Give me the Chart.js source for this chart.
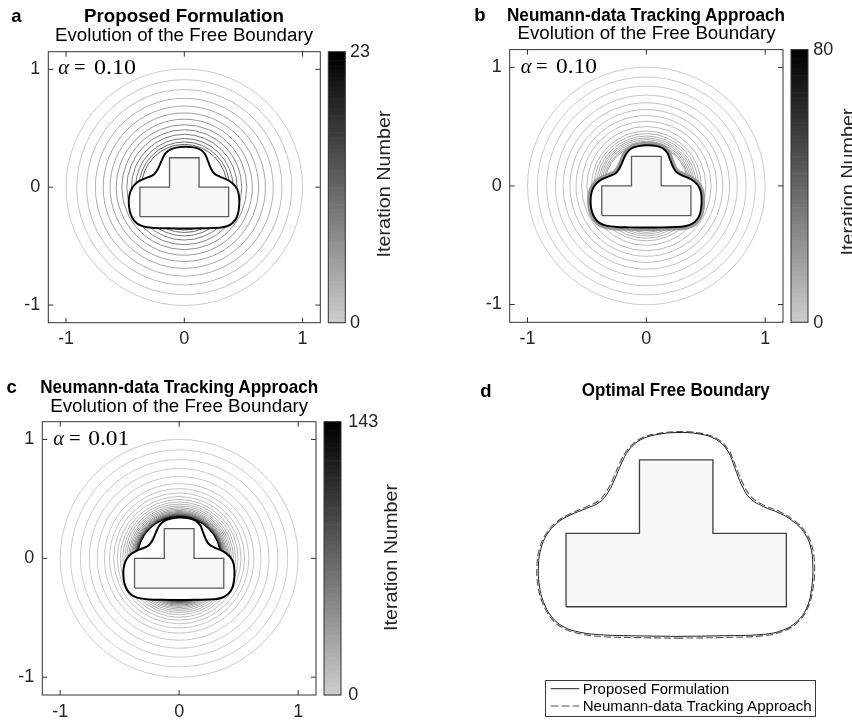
<!DOCTYPE html>
<html>
<head>
<meta charset="utf-8">
<script src="https://cdn.jsdelivr.net/npm/chart.js@4.4.1/dist/chart.umd.min.js"></script>
<style>
  html, body { margin: 0; padding: 0; background: #fff; }
  #wrap { position: relative; width: 852px; height: 723px; overflow: hidden; }
  #wrap canvas, #wrap svg { position: absolute; left: 0; top: 0; }
  .t { font-family: "Liberation Sans", Arial, Helvetica, sans-serif; }
  .b { font-weight: bold; }
  .m { font-family: "Liberation Serif", "Times New Roman", serif; }
</style>
</head>
<body>
<div id="wrap">
  <canvas id="chartA" width="852" height="723"></canvas>
  <canvas id="chartB" width="852" height="723"></canvas>
  <canvas id="chartC" width="852" height="723"></canvas>
  <canvas id="chartD" width="852" height="723"></canvas>
  <svg width="852" height="723">
    <g class="t" fill="#000" font-size="18.5">
      <!-- a -->
      <text class="b" x="16.5" y="21.7" text-anchor="middle">a</text>
      <text class="b" x="184" y="21.7" text-anchor="middle" textLength="200" lengthAdjust="spacingAndGlyphs">Proposed Formulation</text>
      <text x="184" y="40.7" text-anchor="middle" textLength="258" lengthAdjust="spacingAndGlyphs">Evolution of the Free Boundary</text>
      <!-- b -->
      <text class="b" x="480" y="21" text-anchor="middle">b</text>
      <text class="b" x="646" y="21" text-anchor="middle" textLength="278" lengthAdjust="spacingAndGlyphs">Neumann-data Tracking Approach</text>
      <text x="646.5" y="39.3" text-anchor="middle" textLength="258" lengthAdjust="spacingAndGlyphs">Evolution of the Free Boundary</text>
      <!-- c -->
      <text class="b" x="11.7" y="392.7" text-anchor="middle">c</text>
      <text class="b" x="179.2" y="392.7" text-anchor="middle" textLength="278" lengthAdjust="spacingAndGlyphs">Neumann-data Tracking Approach</text>
      <text x="179.2" y="411.7" text-anchor="middle" textLength="258" lengthAdjust="spacingAndGlyphs">Evolution of the Free Boundary</text>
      <!-- d -->
      <text class="b" x="486" y="396.7" text-anchor="middle">d</text>
      <text class="b" x="675.8" y="395.7" text-anchor="middle" textLength="188" lengthAdjust="spacingAndGlyphs">Optimal Free Boundary</text>
    </g>
    <g class="t" fill="#262626" font-size="18">
      <text x="350" y="56.7">23</text>
      <text x="350" y="328.3">0</text>
      <text transform="translate(390,184) rotate(-90)" text-anchor="middle" textLength="147" lengthAdjust="spacingAndGlyphs">Iteration Number</text>
      <text x="813.3" y="55">80</text>
      <text x="813.3" y="328">0</text>
      <text transform="translate(854,182) rotate(-90)" text-anchor="middle" textLength="147" lengthAdjust="spacingAndGlyphs">Iteration Number</text>
      <text x="348.3" y="426.7">143</text>
      <text x="348.3" y="700">0</text>
      <text transform="translate(396.7,557.5) rotate(-90)" text-anchor="middle" textLength="147" lengthAdjust="spacingAndGlyphs">Iteration Number</text>
    </g>
    <g class="m" fill="#000" font-size="20.5">
      <text x="58.3" y="74"><tspan font-style="italic">α</tspan><tspan x="74">=</tspan><tspan x="94" textLength="42" lengthAdjust="spacingAndGlyphs">0.10</tspan></text>
      <text x="520.7" y="72.7"><tspan font-style="italic">α</tspan><tspan x="536">=</tspan><tspan x="556" textLength="41" lengthAdjust="spacingAndGlyphs">0.10</tspan></text>
      <text x="53.3" y="445"><tspan font-style="italic">α</tspan><tspan x="69">=</tspan><tspan x="88.3" textLength="41" lengthAdjust="spacingAndGlyphs">0.01</tspan></text>
    </g>
    <g class="t" font-size="15">
      <rect x="545.5" y="680.5" width="270" height="36" fill="#fff" stroke="#3a3a3a" stroke-width="1"/>
      <line x1="550.7" y1="688.7" x2="579.3" y2="688.7" stroke="#222" stroke-width="1"/>
      <line x1="550.7" y1="706" x2="579.3" y2="706" stroke="#555" stroke-width="1" stroke-dasharray="8,3"/>
      <text x="582.7" y="693.5" fill="#000" textLength="146.7" lengthAdjust="spacingAndGlyphs">Proposed Formulation</text>
      <text x="582.7" y="711" fill="#000" textLength="229" lengthAdjust="spacingAndGlyphs">Neumann-data Tracking Approach</text>
    </g>
  </svg>
</div>
<script>
// ---- data ----
const tickValues = [-1, 0, 1];
const axisRange = [-1.15, 1.15];
const circleCenter = [0, 0];

// T-shaped obstacle
const obstacleX = [-0.375, 0.375, 0.375, 0.125, 0.125, -0.125, -0.125, -0.375, -0.375];
const obstacleY = [-0.25, -0.25, 0, 0, 0.25, 0.25, 0, 0, -0.25];

// optimal free boundary (proposed formulation)
const boundaryX = [0, 0.138, 0.297, 0.365, 0.41, 0.444, 0.461, 0.465, 0.456, 0.433, 0.399, 0.353, 0.297,
  0.251, 0.223, 0.2, 0.177, 0.138, 0.081, 0, -0.066, -0.112, -0.146, -0.169, -0.189, -0.208, -0.231,
  -0.259, -0.305, -0.361, -0.407, -0.441, -0.46, -0.469, -0.466, -0.452, -0.424, -0.384, -0.327,
  -0.248, -0.135, 0];
const boundaryY = [-0.351, -0.349, -0.344, -0.329, -0.301, -0.255, -0.187, -0.108, -0.04, 0.006, 0.04,
  0.068, 0.091, 0.119, 0.164, 0.221, 0.278, 0.318, 0.338, 0.343, 0.336, 0.323, 0.3, 0.272, 0.232,
  0.187, 0.141, 0.107, 0.085, 0.062, 0.034, -0.006, -0.051, -0.108, -0.176, -0.233, -0.284, -0.318,
  -0.337, -0.346, -0.349, -0.351];

// optimal free boundary (Neumann-data tracking)
const trackingX = [0, 0.138, 0.297, 0.366, 0.413, 0.447, 0.466, 0.471, 0.461, 0.437, 0.402, 0.356, 0.3,
  0.256, 0.228, 0.204, 0.18, 0.14, 0.082, 0, -0.066, -0.114, -0.149, -0.173, -0.194, -0.213, -0.236,
  -0.264, -0.309, -0.364, -0.41, -0.445, -0.465, -0.474, -0.471, -0.456, -0.427, -0.386, -0.328,
  -0.248, -0.135, 0];
const trackingY = [-0.357, -0.355, -0.349, -0.333, -0.303, -0.256, -0.187, -0.108, -0.039, 0.008, 0.043,
  0.072, 0.095, 0.123, 0.168, 0.225, 0.281, 0.321, 0.341, 0.346, 0.339, 0.326, 0.303, 0.275, 0.235,
  0.19, 0.145, 0.111, 0.089, 0.065, 0.036, -0.005, -0.051, -0.108, -0.177, -0.235, -0.287, -0.322,
  -0.342, -0.352, -0.355, -0.357];

// iterates (radius of each drawn contour and its iteration number)
const maxIterA = 23;
const radiiA = [1.0, 0.909, 0.826, 0.752, 0.686, 0.628, 0.575, 0.528, 0.486, 0.447, 0.412, 0.383, 0.362];
const itersA = [0, 1, 2, 3, 4, 5, 6, 7, 8, 9, 10, 11, 12];

const maxIterB = 80;
const radiiB = [1.0, 0.917, 0.84, 0.765, 0.7, 0.643, 0.592, 0.545, 0.5, 0.462, 0.44, 0.42, 0.404, 0.39,
  0.376, 0.362, 0.352];
const itersB = [0, 1, 2, 3, 4, 5, 6, 7, 8, 9, 10, 11, 12, 13, 14, 15, 16];

const maxIterC = 143;
const radiiC = [1.0, 0.912, 0.83, 0.755, 0.688, 0.628, 0.585, 0.55, 0.52, 0.495, 0.474, 0.456, 0.44,
  0.426, 0.414, 0.403, 0.394, 0.386, 0.379, 0.373, 0.368, 0.363, 0.359, 0.356, 0.353, 0.35];
const itersC = [0, 1, 2, 3, 4, 5, 6, 8, 10, 12, 15, 18, 21, 25, 29, 34, 40, 47, 55, 64, 74, 85, 97, 110,
  124, 138];

// ---- helpers ----
const W = 852, H = 723;
const SANS = '"Liberation Sans", Arial, Helvetica, sans-serif';
const CMAP_STEPS = 64;
const X_AXIS_H = 32, Y_AXIS_W = 40;

// reversed gray colormap, light gray (0) to black (max)
function levelColor(i) {
  const g = Math.round(255 * 0.8 * (1 - i / (CMAP_STEPS - 1)));
  return 'rgb(' + g + ',' + g + ',' + g + ')';
}
function iterColor(k, maxIter) {
  return levelColor(Math.min(CMAP_STEPS - 1, Math.floor(k / maxIter * CMAP_STEPS)));
}

function pxLength(chart, r) {
  const s = chart.scales.x;
  if (!s) return 0;
  const d = Math.abs(s.getPixelForValue(r) - s.getPixelForValue(0));
  return isFinite(d) ? d : 0;
}

function toPoints(xs, ys) {
  return xs.map((x, i) => ({x: x, y: ys[i]}));
}

function contourDataset(radii, iters, maxIter) {
  return {
    data: radii.map(() => ({x: circleCenter[0], y: circleCenter[1]})),
    showLine: false,
    pointStyle: 'circle',
    pointRadius: ctx => pxLength(ctx.chart, radii[ctx.dataIndex]),
    pointBackgroundColor: 'rgba(0,0,0,0)',
    pointBorderColor: ctx => iterColor(iters[ctx.dataIndex], maxIter),
    pointBorderWidth: 1,
    order: 4
  };
}

function lineDataset(xs, ys, opts) {
  return Object.assign({
    data: toPoints(xs, ys),
    showLine: true,
    pointRadius: 0,
    borderJoinStyle: 'round',
    fill: false
  }, opts);
}

function obstacleDataset(stroke) {
  return lineDataset(obstacleX, obstacleY, {
    borderColor: stroke, borderWidth: 1.3, fill: 'shape', backgroundColor: '#f7f7f7',
    borderJoinStyle: 'miter', order: 1
  });
}

// box, inward ticks and colorbar (MATLAB style)
const framePlugin = {
  id: 'frame',
  afterDatasetsDraw(chart, args, opts) {
    if (!opts.box) return;
    const ctx = chart.ctx, a = chart.chartArea;
    const xs = chart.scales.x, ys = chart.scales.y;
    ctx.save();
    ctx.strokeStyle = '#333';
    ctx.lineWidth = 1;
    ctx.strokeRect(a.left, a.top, a.right - a.left, a.bottom - a.top);
    ctx.beginPath();
    tickValues.forEach(v => {
      const px = xs.getPixelForValue(v), py = ys.getPixelForValue(v);
      ctx.moveTo(px, a.bottom); ctx.lineTo(px, a.bottom - 5);
      ctx.moveTo(px, a.top); ctx.lineTo(px, a.top + 5);
      ctx.moveTo(a.left, py); ctx.lineTo(a.left + 5, py);
      ctx.moveTo(a.right, py); ctx.lineTo(a.right - 5, py);
    });
    ctx.stroke();

    const x0 = a.right + 8, w = 17, h = a.bottom - a.top, step = h / CMAP_STEPS;
    for (let i = 0; i < CMAP_STEPS; i++) {
      ctx.fillStyle = levelColor(i);
      ctx.fillRect(x0, a.bottom - (i + 1) * step, w, step + 0.6);
    }
    ctx.strokeRect(x0, a.top, w, h);
    ctx.restore();
  }
};

function makeAxis(isY) {
  return {
    type: 'linear',
    min: axisRange[0],
    max: axisRange[1],
    afterBuildTicks: s => { s.ticks = tickValues.map(v => ({value: v})); },
    afterFit: s => { if (isY) s.width = Y_AXIS_W; else s.height = X_AXIS_H; },
    grid: {display: false, drawTicks: false},
    border: {display: false},
    ticks: {
      autoSkip: false, maxRotation: 0, padding: isY ? 8 : 6, color: '#262626',
      font: {family: SANS, size: 18}, callback: v => String(v)
    }
  };
}

function panel(id, box, datasets) {
  return new Chart(document.getElementById(id), {
    type: 'scatter',
    data: {datasets: datasets},
    options: {
      responsive: false,
      animation: false,
      events: [],
      layout: {
        autoPadding: false,
        padding: {left: box.l - Y_AXIS_W, top: box.t, right: W - box.r, bottom: H - box.b - X_AXIS_H}
      },
      scales: {x: makeAxis(false), y: makeAxis(true)},
      plugins: {legend: {display: false}, tooltip: {enabled: false}, frame: {box: true}}
    },
    plugins: [framePlugin]
  });
}

// ---- panel a ----
panel('chartA', {l: 48.3, t: 51.7, r: 320.3, b: 322.7}, [
  contourDataset(radiiA, itersA, maxIterA),
  lineDataset(boundaryX, boundaryY, {
    borderColor: '#0a0a0a', borderWidth: 2, tension: 0.4, fill: 'shape', backgroundColor: '#fff', order: 2
  }),
  obstacleDataset('#5a5a5a')
]);

// ---- panel b ----
panel('chartB', {l: 509.7, t: 49.6, r: 783, b: 322.3}, [
  contourDataset(radiiB, itersB, maxIterB),
  lineDataset(boundaryX, boundaryY, {
    borderColor: '#999', borderWidth: 7, tension: 0.4, order: 3
  }),
  lineDataset(boundaryX, boundaryY, {
    borderColor: '#000', borderWidth: 1.9, tension: 0.4, fill: 'shape', backgroundColor: '#fff', order: 2
  }),
  obstacleDataset('#5a5a5a')
]);

// ---- panel c ----
panel('chartC', {l: 42.3, t: 421.7, r: 316, b: 695}, [
  contourDataset(radiiC, itersC, maxIterC),
  lineDataset(boundaryX, boundaryY, {
    borderColor: '#000', borderWidth: 2, tension: 0.4, fill: 'shape', backgroundColor: '#fff', order: 2
  }),
  obstacleDataset('#5a5a5a')
]);

// ---- panel d ----
new Chart(document.getElementById('chartD'), {
  type: 'scatter',
  data: {
    datasets: [
      lineDataset(boundaryX, boundaryY, {borderColor: '#1e1e1e', borderWidth: 1, tension: 0.4, order: 2}),
      lineDataset(trackingX, trackingY, {
        borderColor: '#555', borderWidth: 1.1, borderDash: [7, 3], tension: 0.4, order: 3
      }),
      obstacleDataset('#404040')
    ]
  },
  options: {
    responsive: false,
    animation: false,
    events: [],
    layout: {autoPadding: false, padding: {left: 529.3, top: 415.8, right: 28.9, bottom: 72.2}},
    scales: {
      x: {type: 'linear', min: -0.5, max: 0.5, display: false},
      y: {type: 'linear', min: -0.4, max: 0.4, display: false}
    },
    plugins: {legend: {display: false}, tooltip: {enabled: false}}
  }
});
</script>
</body>
</html>
